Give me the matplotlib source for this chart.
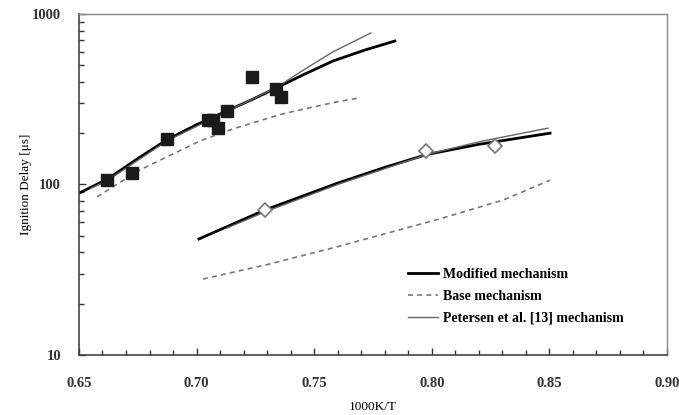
import matplotlib.pyplot as plt
import matplotlib.ticker as ticker
import numpy as np

# experimental points
exp_sq_x = [0.6619, 0.6725, 0.6874, 0.7049, 0.7070, 0.7090, 0.7130, 0.7236, 0.7336, 0.7357]
exp_sq_y = [106, 117, 185, 239, 240, 214, 270, 427, 363, 326]
exp_dm_x = [0.729, 0.7975, 0.8269]
exp_dm_y = [70.8, 157, 168]

# upper set
mod1_x = [0.650, 0.6619, 0.6747, 0.6874, 0.7002, 0.7129, 0.7236, 0.7338, 0.7461, 0.758, 0.7716, 0.7843]
mod1_y = [89, 107, 141, 183, 225, 270, 315, 368, 445, 530, 615, 694]
pet1_x = [0.655, 0.6619, 0.6874, 0.7129, 0.7338, 0.745, 0.758, 0.7741]
pet1_y = [95, 105, 180, 268, 370, 465, 600, 774]
base1_x = [0.6577, 0.676, 0.7014, 0.7155, 0.7367, 0.758, 0.7686]
base1_y = [84.6, 122, 180, 212, 260, 302, 321]

# lower set
mod2_x = [0.701, 0.729, 0.7601, 0.780, 0.798, 0.820, 0.8503]
mod2_y = [47.9, 70.8, 102, 126, 150, 172, 200]
pet2_x = [0.713, 0.729, 0.760, 0.798, 0.820, 0.8494]
pet2_y = [55.6, 69, 100, 150, 178, 214]
base2_x = [0.7027, 0.730, 0.758, 0.8035, 0.8303, 0.8503]
base2_y = [27.9, 33.9, 42.5, 62.9, 81, 106]

labels = ["Modified mechanism", "Base mechanism", "Petersen et al. [13] mechanism"]

plt.rcParams["font.family"] = ["Liberation Serif", "DejaVu Serif"]

fig = plt.figure(figsize=(6.79, 4.15), dpi=100)
ax = fig.add_axes([0.1163, 0.1446, 0.866, 0.8217])

mod_args = dict(color="black", lw=2.0)
base_args = dict(color="#777777", lw=1.2, ls=(0, (3, 2.5)))
pet_args = dict(color="#666666", lw=1.0)

ax.plot(mod1_x, mod1_y, label=labels[0], **mod_args)
ax.plot(base1_x, base1_y, label=labels[1], **base_args)
ax.plot(pet1_x, pet1_y, label=labels[2], **pet_args)
ax.plot(mod2_x, mod2_y, **mod_args)
ax.plot(base2_x, base2_y, **base_args)
ax.plot(pet2_x, pet2_y, **pet_args)

ax.plot(exp_sq_x, exp_sq_y, ls="none", marker="s", ms=8, color="#1a1a1a")
ax.plot(exp_dm_x, exp_dm_y, ls="none", marker="D", ms=7, mfc="white",
        mec="#777777", mew=1.2)

ax.set_yscale("log")
ax.set(xlim=[0.65, 0.90], ylim=[10, 1000])
ax.set_xticks(np.arange(0.65, 0.91, 0.05))
ax.xaxis.set_major_formatter(ticker.FormatStrFormatter("%.2f"))
ax.xaxis.set_minor_locator(ticker.MultipleLocator(0.01))
ax.yaxis.set_major_formatter(ticker.FuncFormatter(lambda v, p: f"{v:.0f}"))
ax.yaxis.set_minor_formatter(ticker.NullFormatter())

ax.tick_params(which="both", direction="in", colors="#333333", width=1)
ax.tick_params(which="major", length=5, labelsize=10.5)
ax.tick_params(which="minor", length=3.5)
ax.tick_params(axis="x", which="major", pad=16)
ax.tick_params(axis="y", which="major", pad=13)
for lab in ax.get_xticklabels() + ax.get_yticklabels():
    lab.set_fontweight("bold")

for side in ["left", "bottom"]:
    ax.spines[side].set_color("#444444")
    ax.spines[side].set_linewidth(1.2)
for side in ["top", "right"]:
    ax.spines[side].set_color("#888888")
    ax.spines[side].set_linewidth(1.0)

ax.set_xlabel("1000K/T", fontsize=9.5, labelpad=8)
ax.set_ylabel("Ignition Delay [\u03bcs]", fontsize=9.5, labelpad=0)

leg = ax.legend(loc="lower left", bbox_to_anchor=(0.538, 0.052), frameon=False,
                prop={"weight": "bold", "size": 10}, handlelength=2.2,
                handletextpad=0.3, labelspacing=0.65)

fig.savefig("out.png", dpi=100, facecolor="white")
